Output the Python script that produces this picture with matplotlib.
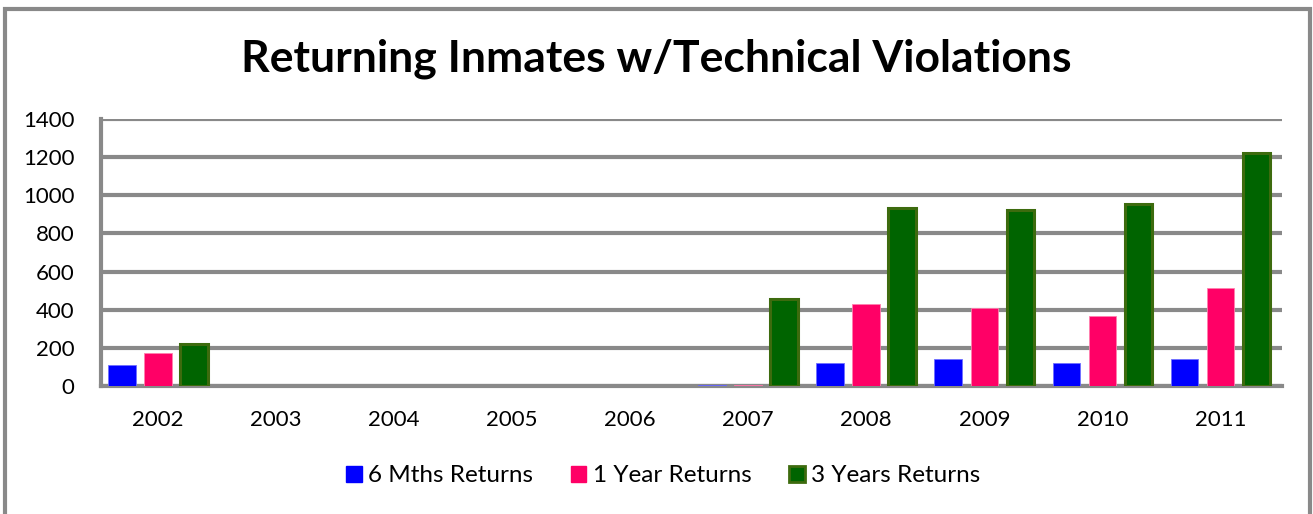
import numpy as np
import matplotlib
matplotlib.use("Agg")
import matplotlib.pyplot as plt
from matplotlib.patches import Rectangle, Patch

years = ["2002", "2003", "2004", "2005", "2006", "2007", "2008", "2009", "2010", "2011"]
six_months = [110, 0, 0, 0, 0, 5, 120, 140, 120, 140]
one_year = [172, 0, 0, 0, 0, 5, 430, 410, 368, 514]
three_years = [218, 0, 0, 0, 0, 456, 933, 922, 952, 1220]
series_names = ["6 Mths Returns", "1 Year Returns", "3 Years Returns"]

plt.rcParams['font.family'] = ['Lato', 'DejaVu Sans']

fig = plt.figure(figsize=(13.13, 5.14), dpi=100)
ax = fig.add_axes([101 / 1313, 128 / 514, 1181 / 1313, 267 / 514])

x = np.arange(len(years))
w = 0.235
step = 0.305
grid_col = "#898989"

# skip the outline on empty years so nothing shows at 0
def edges(vals, lw):
    return [lw if v > 0 else 0 for v in vals]

ax.bar(x - step, six_months, w, color="#0000ff", edgecolor="#6f6fff",
       linewidth=edges(six_months, 0.6), zorder=3)
ax.bar(x, one_year, w, color="#ff0066", edgecolor="#ff7fae",
       linewidth=edges(one_year, 0.6), zorder=3)
ax.bar(x + step, three_years, w, color="#006400", edgecolor="#3d6b0e",
       linewidth=edges(three_years, 2.2), zorder=3)

ax.set_xlim(-0.48, 9.52)
ax.set_ylim(0, 1400)
ax.set_yticks(range(0, 1401, 200))
ax.yaxis.grid(True, color=grid_col, linewidth=3, zorder=0)
ax.set_axisbelow(True)
for side in ["top", "right"]:
    ax.spines[side].set_visible(False)
for side in ["left", "bottom"]:
    ax.spines[side].set_color(grid_col)
    ax.spines[side].set_linewidth(3)
ax.set_xticks(x)
ax.set_xticklabels(years)
ax.tick_params(axis="both", length=0, labelsize=16)
ax.tick_params(axis="x", pad=17)
ax.tick_params(axis="y", pad=19)

fig.text(0.5, 1 - 59 / 514, "Returning Inmates w/Technical Violations",
         ha="center", va="center", fontsize=32, fontweight="bold")

handles = [
    Patch(facecolor="#0000ff", edgecolor="#0000ff"),
    Patch(facecolor="#ff0066", edgecolor="#ff0066"),
    Patch(facecolor="#006400", edgecolor="#3d6b0e", linewidth=2),
]
fig.legend(handles, series_names, loc="center", bbox_to_anchor=(0.505, 1 - 476 / 514),
           ncol=3, frameon=False, fontsize=17.5, handlelength=0.65, handleheight=0.65,
           handletextpad=0.25, columnspacing=1.55)

fig.patches.append(Rectangle((5 / 1313, -0.05), 1305 / 1313, 1.05 - 9 / 514,
                             transform=fig.transFigure, fill=False,
                             edgecolor=grid_col, linewidth=3))

fig.savefig("out.png", dpi=100)
